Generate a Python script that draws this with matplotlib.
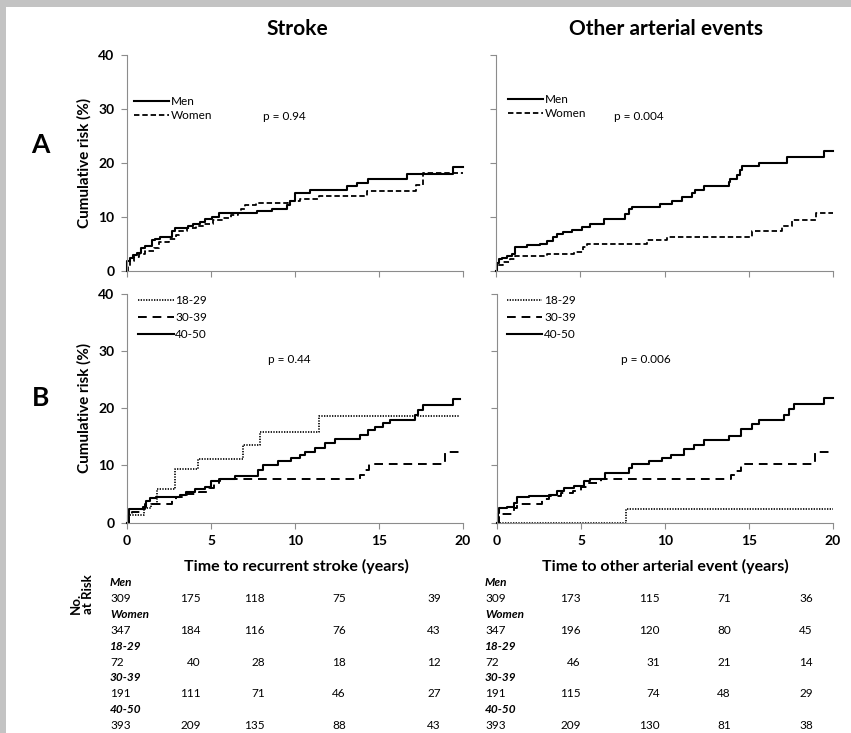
import matplotlib
matplotlib.use('Agg')
import matplotlib.pyplot as plt
from matplotlib.patches import Rectangle

plt.rcParams['font.family'] = ['Lato', 'DejaVu Sans']

# ---- data (years, cumulative risk %) ----
x_ticks = [0, 5, 10, 15, 20]
y_ticks = [0, 10, 20, 30, 40]

# A: stroke, by sex
stroke_men_t = [0.02, 0.18, 0.38, 0.58, 0.82, 1.07, 1.47, 1.67, 1.97, 2.66, 2.86, 3.66, 3.92,
                4.35, 4.65, 5.05, 5.45, 7.73, 8.63, 9.52, 9.72, 10.02, 10.91, 13.1, 13.7,
                14.33, 16.64, 19.42]
stroke_men_r = [1.9, 2.5, 2.9, 3.4, 4.3, 4.6, 5.7, 6.0, 6.3, 7.4, 8.0, 8.3, 8.8,
                9.1, 9.6, 10.1, 10.7, 11.1, 11.6, 12.3, 13.0, 14.4, 15.0, 15.7, 16.4,
                17.1, 18.0, 19.3]
stroke_women_t = [0.05, 0.15, 0.4, 0.7, 1.1, 1.6, 1.9, 2.5, 2.9, 3.1, 3.6, 4.1, 4.6, 5.1,
                  5.7, 6.2, 6.6, 6.8, 7.0, 7.7, 9.6, 10.3, 11.4, 14.3, 17.2, 17.6]
stroke_women_r = [0.9, 1.8, 2.6, 3.1, 3.7, 4.3, 5.3, 6.0, 6.6, 7.5, 7.9, 8.3, 8.8, 9.4,
                  9.9, 10.4, 10.8, 11.6, 12.3, 12.7, 13.0, 13.3, 14.0, 14.9, 16.0, 18.1]

# A: other arterial events, by sex
other_men_t = [0.08, 0.2, 0.34, 0.63, 0.93, 1.13, 1.82, 2.62, 3.01, 3.41, 3.61, 3.96, 4.5,
               5.09, 5.59, 6.38, 7.67, 7.87, 8.07, 9.75, 10.45, 11.04, 11.64, 11.83, 12.33,
               13.82, 13.91, 14.31, 14.51, 14.61, 15.6, 17.28, 19.46]
other_men_r = [1.4, 2.2, 2.5, 2.7, 3.1, 4.5, 4.8, 5.1, 5.5, 6.3, 6.8, 7.3, 7.7,
               8.1, 8.7, 9.6, 10.5, 11.5, 11.9, 12.5, 13.0, 13.7, 14.5, 15.1, 15.7,
               16.6, 17.1, 17.9, 18.7, 19.4, 20.1, 21.2, 22.3]
other_women_t = [0.04, 0.44, 0.83, 1.13, 3.01, 4.6, 5.19, 5.39, 8.96, 10.15, 15.2, 16.99,
                 17.58, 18.97]
other_women_r = [1.1, 1.7, 2.3, 2.7, 3.1, 3.5, 4.5, 5.1, 5.7, 6.4, 7.5, 8.4,
                 9.5, 10.7]

# B: stroke, by age group
stroke_1829_t = [0.1, 1.0, 1.4, 1.8, 2.85, 4.2, 6.9, 7.9, 11.4]
stroke_1829_r = [1.4, 2.6, 3.3, 5.9, 9.4, 11.1, 13.5, 15.9, 18.6]
stroke_3039_t = [0.1, 0.3, 0.8, 1.1, 2.7, 2.9, 3.6, 4.3, 4.9, 5.2, 5.5, 13.85, 14.15, 14.4, 18.9]
stroke_3039_r = [1.0, 1.8, 2.4, 3.3, 3.9, 4.4, 5.0, 5.4, 6.0, 6.8, 7.6, 8.4, 9.2, 10.3, 12.4]
stroke_4050_t = [0.06, 0.12, 0.95, 1.15, 1.35, 1.75, 3.13, 3.53, 4.03, 4.62, 5.02, 5.52, 6.41,
                 7.8, 8.1, 8.99, 9.78, 10.28, 10.58, 11.17, 11.77, 12.36, 13.85, 14.35, 14.74,
                 15.24, 15.63, 17.12, 17.32, 17.62, 19.4]
stroke_4050_r = [1.3, 2.4, 2.8, 3.7, 4.3, 4.5, 4.8, 5.4, 5.9, 6.3, 7.2, 7.6, 8.2,
                 9.2, 10.1, 10.7, 11.3, 11.8, 12.4, 13.0, 13.9, 14.6, 15.3, 16.2, 16.8,
                 17.4, 18.0, 18.8, 19.7, 20.6, 21.7]

# B: other arterial events, by age group
other_1829_t = [7.7]
other_1829_r = [2.4]
other_3039_t = [0.1, 1.0, 1.2, 2.7, 3.1, 3.8, 4.5, 5.0, 5.4, 6.2, 13.9, 14.2, 14.5, 18.9]
other_3039_r = [1.5, 2.6, 3.3, 4.1, 4.6, 5.2, 5.6, 6.3, 7.0, 7.7, 8.4, 9.0, 10.3, 12.3]
other_4050_t = [0.04, 0.1, 0.6, 0.99, 1.19, 1.89, 3.08, 3.57, 3.97, 4.57, 5.16, 5.56, 6.45,
                7.85, 8.04, 9.04, 9.83, 10.33, 11.12, 11.72, 12.31, 13.8, 14.5, 15.19,
                15.59, 17.08, 17.38, 17.68, 19.46]
other_4050_r = [1.7, 2.5, 2.8, 3.5, 4.4, 4.6, 4.9, 5.6, 6.0, 6.4, 7.2, 7.7, 8.6,
                9.6, 10.2, 10.8, 11.3, 11.9, 12.8, 13.6, 14.5, 15.2, 16.3, 17.2,
                17.9, 18.8, 19.8, 20.7, 21.8]

# number at risk
risk_groups = ['Men', 'Women', '18-29', '30-39', '40-50']
risk_stroke = [[309, 175, 118, 75, 39], [347, 184, 116, 76, 43], [72, 40, 28, 18, 12],
               [191, 111, 71, 46, 27], [393, 209, 135, 88, 43]]
risk_other = [[309, 173, 115, 71, 36], [347, 196, 120, 80, 45], [72, 46, 31, 21, 14],
              [191, 115, 74, 48, 29], [393, 209, 130, 81, 38]]

W, H = 851, 733
GREY = '#8c8c8c'


def fx(x):
    return x / W


def fy(y):
    return 1 - y / H


def add_ax(fig, x0, y0, x1, y1):
    return fig.add_axes([fx(x0), fy(y1), (x1 - x0) / W, (y1 - y0) / H])


def panel(ax, curves, t_end, ptxt, pxy, leg_anchor, leg_spacing, ylab, xlab):
    for t, r, ls, lw, lab in curves:
        xs = [0] + t + [t_end]
        ys = [0] + r + [r[-1]]
        ax.step(xs, ys, where='post', color='black', linestyle=ls, linewidth=lw,
                label=lab, clip_on=False)
    ax.set_xlim(0, 20)
    ax.set_ylim(0, 40)
    ax.set_xticks(x_ticks)
    ax.set_yticks(y_ticks)
    for s in ['top', 'right']:
        ax.spines[s].set_visible(False)
    for s in ['left', 'bottom']:
        ax.spines[s].set_color(GREY)
        ax.spines[s].set_linewidth(0.8)
    ax.tick_params(direction='out', length=4, width=0.8, color=GREY,
                   labelsize=10, pad=5)
    for lbl in ax.get_xticklabels() + ax.get_yticklabels():
        lbl.set_fontweight('bold')
    if not ylab:
        ax.tick_params(axis='y', labelleft=False)
    else:
        ax.set_ylabel('Cumulative risk (%)', fontsize=11, fontweight='bold', labelpad=5)
    if not xlab:
        ax.tick_params(axis='x', labelbottom=False)
    ax.text(pxy[0], pxy[1], ptxt, transform=ax.transAxes, fontsize=8.5)
    ax.legend(loc='upper left', bbox_to_anchor=leg_anchor, frameon=False, fontsize=8.5,
              handlelength=3.0, handletextpad=0.15, labelspacing=leg_spacing,
              borderaxespad=0, borderpad=0)


fig = plt.figure(figsize=(W / 100, H / 100), dpi=100)
fig.patch.set_facecolor('#c3c3c3')
fig.add_artist(Rectangle((fx(6), 0), 1, fy(7), transform=fig.transFigure,
                         facecolor='white', edgecolor='none', zorder=-5))

ax1 = add_ax(fig, 127, 55.5, 463, 271)
ax2 = add_ax(fig, 496, 55.5, 833, 271)
ax3 = add_ax(fig, 127, 294, 463, 522.5)
ax4 = add_ax(fig, 497, 294, 833, 522.5)

dash_a = (0, (3, 1.6))
dash_b = (0, (4.5, 3))
dot = (0, (0.8, 0.8))

panel(ax1, [(stroke_men_t, stroke_men_r, '-', 1.5, 'Men'),
            (stroke_women_t, stroke_women_r, dash_a, 1.3, 'Women')],
      20, 'p = 0.94', (0.405, 0.7), (0.02, 0.81), 0.2, True, False)
panel(ax2, [(other_men_t, other_men_r, '-', 1.5, 'Men'),
            (other_women_t, other_women_r, dash_a, 1.3, 'Women')],
      20, 'p = 0.004', (0.35, 0.7), (0.035, 0.82), 0.2, False, False)
panel(ax3, [(stroke_1829_t, stroke_1829_r, dot, 1.2, '18-29'),
            (stroke_3039_t, stroke_3039_r, dash_b, 1.4, '30-39'),
            (stroke_4050_t, stroke_4050_r, '-', 1.5, '40-50')],
      19.8, 'p = 0.44', (0.42, 0.7), (0.033, 0.995), 0.5, True, True)
panel(ax4, [(other_1829_t, other_1829_r, dot, 1.2, '18-29'),
            (other_3039_t, other_3039_r, dash_b, 1.4, '30-39'),
            (other_4050_t, other_4050_r, '-', 1.5, '40-50')],
      20, 'p = 0.006', (0.37, 0.7), (0.03, 0.995), 0.5, False, True)

# titles and panel letters
fig.text(fx(297), fy(29), 'Stroke', ha='center', va='center', fontsize=15, fontweight='bold')
fig.text(fx(666), fy(29), 'Other arterial events', ha='center', va='center',
         fontsize=15, fontweight='bold')
fig.text(fx(40), fy(145), 'A', ha='center', va='center', fontsize=19, fontweight='bold')
fig.text(fx(41), fy(398), 'B', ha='center', va='center', fontsize=19, fontweight='bold')

fig.text(fx(296), fy(566), 'Time to recurrent stroke (years)', ha='center', va='center',
         fontsize=11.5, fontweight='bold')
fig.text(fx(665), fy(566), 'Time to other arterial event (years)', ha='center', va='center',
         fontsize=11.5, fontweight='bold')

# number at risk table
fig.text(fx(82), fy(614), 'No.\nat Risk', rotation=90, ha='center', va='bottom',
         multialignment='left', fontsize=9.5, fontweight='bold', linespacing=0.95)

left_cols = [110, 201, 265, 346, 441]
right_cols = [485, 581, 660, 731, 813]
for i, g in enumerate(risk_groups):
    y_lab = 583 + 31.6 * i
    y_num = 599 + 31.6 * i
    for first, cols, table in [(110, left_cols, risk_stroke), (485, right_cols, risk_other)]:
        fig.text(fx(first), fy(y_lab), g, ha='left', va='center', fontsize=8.5,
                 fontweight='bold', style='italic')
        for j, v in enumerate(table[i]):
            ha = 'left' if j == 0 else 'right'
            fig.text(fx(cols[j]), fy(y_num), str(v), ha=ha, va='center', fontsize=8.5)

fig.savefig('out.png', dpi=100, facecolor=fig.get_facecolor())
